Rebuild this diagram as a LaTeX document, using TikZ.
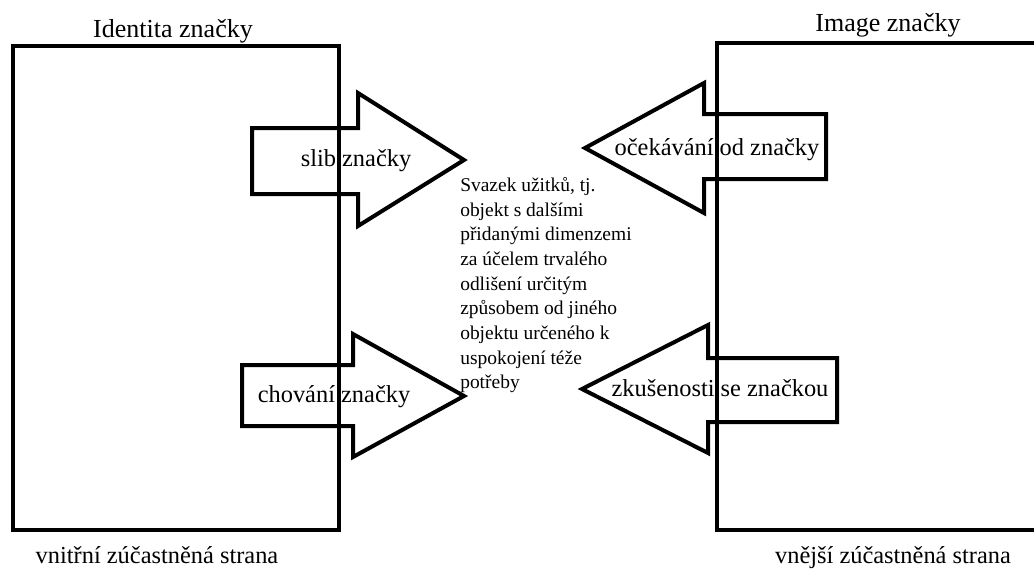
\documentclass[tikz,border=0pt]{standalone}
\usepackage{fontspec}
\setmainfont{Liberation Serif}
\tikzset{
  ramec/.style={line width=3pt},
  sipka/.style={line width=3pt, line join=miter},
  popis/.style={inner sep=0pt, anchor=base, font=\fontsize{18.3}{20}\selectfont},
  nadpis/.style={inner sep=0pt, anchor=base, font=\fontsize{19.5}{21}\selectfont},
}
\begin{document}
\begin{tikzpicture}[x=0.75pt, y=-0.75pt]
        \useasboundingbox (0,0) rectangle (1034,568);
        % boxes
        \draw [ramec] (13,46) rectangle (339,530);
        \draw [ramec] (1036,43) -- (717,43) -- (717,530) -- (1036,530);
        \node [nadpis] (identita) at (173,37) {Identita značky};
        \node [nadpis] (image) at (888,31) {Image značky};
        \node [popis] (vnitrni) at (157,563) {vnitřní zúčastněná strana};
        \node [popis] (vnejsi) at (893,563) {vnější zúčastněná strana};
        % arrows to the right
        \draw [sipka] (252,128) -- (358,128) -- (358,93) -- (464,160) -- (358,226) -- (358,194) -- (252,194) -- cycle;
        \draw [sipka] (242,365) -- (353,365) -- (353,334) -- (464,396) -- (353,457) -- (353,426) -- (242,426) -- cycle;
        % arrows to the left
        \draw [sipka] (826,114) -- (704,114) -- (704,83) -- (585,148) -- (704,213) -- (704,179) -- (826,179) -- cycle;
        \draw [sipka] (837,358) -- (708,358) -- (708,325) -- (582,389) -- (708,453) -- (708,422) -- (837,422) -- cycle;
        \node [popis] (slib) at (356,166) {slib značky};
        \node [popis] (chovani) at (334,402) {chování značky};
        \node [popis] (ocekavani) at (717,155) {očekávání od značky};
        \node [popis] (zkusenosti) at (720,396) {zkušenosti se značkou};
        % middle text
        \node [anchor=north west, inner sep=0pt, align=left,
               font=\fontsize{14.6}{18.5}\selectfont] (svazek) at (460,177)
          {Svazek užitků, tj.\\objekt s dalšími\\přidanými dimenzemi\\za účelem trvalého\\odlišení určitým\\způsobem od jiného\\objektu určeného k\\uspokojení téže\\potřeby};
      \end{tikzpicture}
\end{document}
